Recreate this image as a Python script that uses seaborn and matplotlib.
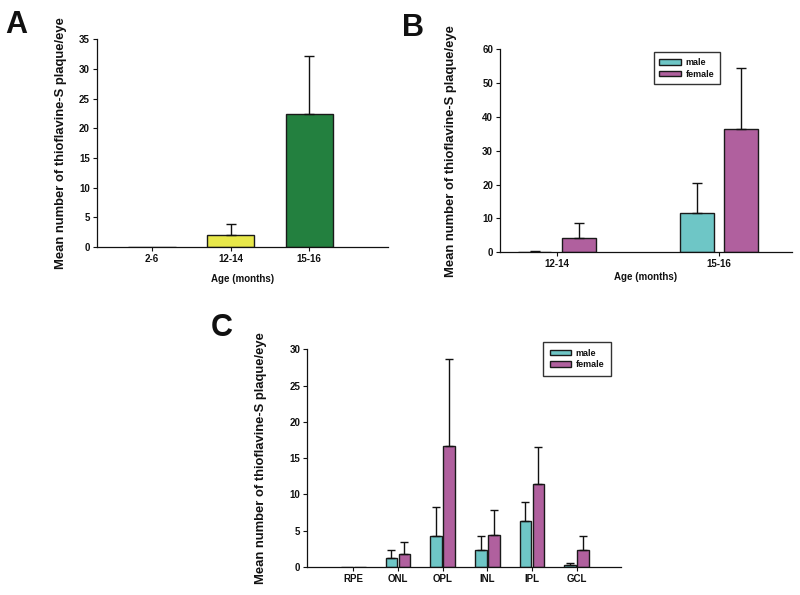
import numpy as np
import pandas as pd
import matplotlib
matplotlib.use("Agg")
import matplotlib.pyplot as plt
import seaborn as sns

sns.set_style("ticks")
plt.rcParams["font.family"] = ["Liberation Sans", "DejaVu Sans"]
plt.rcParams["text.color"] = "#111111"
plt.rcParams["axes.labelcolor"] = "#111111"
plt.rcParams["xtick.color"] = "#111111"
plt.rcParams["ytick.color"] = "#111111"
plt.rcParams["axes.edgecolor"] = "#111111"

# panel A
ages_a = ["2-6", "12-14", "15-16"]
mean_a = [0.0, 2.0, 22.4]
sem_a = [0.0, 1.9, 9.7]
colors_a = ["#e8e84a", "#e8e84a", "#23803f"]

# panel B
ages_b = ["12-14", "15-16"]
male_b = [0.2, 11.7]
male_b_sem = [0.2, 8.9]
female_b = [4.3, 36.6]
female_b_sem = [4.3, 17.9]

# panel C
layers = ["RPE", "ONL", "OPL", "INL", "IPL", "GCL"]
male_c = [0.0, 1.3, 4.3, 2.4, 6.4, 0.3]
male_c_sem = [0.0, 1.0, 4.0, 1.9, 2.5, 0.2]
female_c = [0.0, 1.75, 16.7, 4.4, 11.4, 2.4]
female_c_sem = [0.0, 1.65, 11.9, 3.4, 5.2, 1.9]

sexes = ["male", "female"]
pal = {"male": "#6ec6c6", "female": "#b0609e"}

ylab = "Mean number of thioflavine-S plaque/eye"
ylab_font = dict(fontsize=9.4, fontweight="bold")
tick_fs = 7


def long_df(cats, m, f):
    return pd.DataFrame({
        "cat": cats + cats,
        "sex": ["male"] * len(cats) + ["female"] * len(cats),
        "val": m + f,
    })


def add_err(ax, errs, cap):
    bars = [b for c in ax.containers for b in c]
    for b, e in zip(bars, errs):
        if e <= 0:
            continue
        xc = b.get_x() + b.get_width() / 2
        ax.errorbar([xc], [b.get_height()], yerr=[[0], [e]], fmt="none",
                    ecolor="#111111", elinewidth=1.0, capsize=cap, capthick=1.0)


def style_ax(ax, lab_x):
    sns.despine(ax=ax)
    ax.tick_params(axis="both", labelsize=tick_fs, length=3, width=0.8, pad=2)
    for t in ax.get_xticklabels() + ax.get_yticklabels():
        t.set_fontweight("bold")
    ax.spines["left"].set_linewidth(0.9)
    ax.spines["bottom"].set_linewidth(0.9)
    ax.set_ylabel(ylab, **ylab_font)
    ax.yaxis.set_label_coords(lab_x, 0.5)


fig = plt.figure(figsize=(8, 5.95), dpi=100)

# A
ax1 = fig.add_axes([0.121, 0.585, 0.364, 0.349])
sns.barplot(x=ages_a, y=mean_a, hue=ages_a, palette=colors_a, order=ages_a,
            width=0.6, errorbar=None, edgecolor="#1a1a1a", linewidth=1.0,
            saturation=1, legend=False, ax=ax1)
add_err(ax1, sem_a, 3.6)
ax1.set_xlim(-0.7, 3.0)
ax1.set_ylim(0, 35)
ax1.set_yticks(range(0, 36, 5))
ax1.set_xlabel("Age (months)", fontsize=7, fontweight="bold", labelpad=7)
style_ax(ax1, -0.103)
fig.text(0.006, 0.945, "A", fontsize=22, fontweight="bold")

# B
ax2 = fig.add_axes([0.625, 0.576, 0.365, 0.341])
df_b = long_df(ages_b, male_b, female_b)
sns.barplot(data=df_b, x="cat", y="val", hue="sex", hue_order=sexes,
            palette=pal, width=0.544, gap=0.24, errorbar=None, saturation=1,
            edgecolor="#1a1a1a", linewidth=1.0, ax=ax2)
add_err(ax2, male_b_sem + female_b_sem, 3.6)
ax2.set_xlim(-0.35, 1.45)
ax2.set_ylim(0, 60)
ax2.set_yticks(range(0, 61, 10))
ax2.set_xlabel("Age (months)", fontsize=7, fontweight="bold", labelpad=2)
style_ax(ax2, -0.147)
leg_kw = dict(loc="upper left", borderaxespad=0, fancybox=False,
              edgecolor="#333333", handlelength=2.4, handleheight=0.6,
              labelspacing=0.3, handletextpad=0.5, framealpha=1,
              prop={"size": 6.5, "weight": "bold"})
ax2.legend(bbox_to_anchor=(0.527, 0.985), borderpad=0.6, **leg_kw)
fig.text(0.503, 0.94, "B", fontsize=22, fontweight="bold")

# C
ax3 = fig.add_axes([0.384, 0.047, 0.3925, 0.366])
df_c = long_df(layers, male_c, female_c)
sns.barplot(data=df_c, x="cat", y="val", hue="sex", hue_order=sexes,
            palette=pal, width=0.58, gap=0.1, errorbar=None, saturation=1,
            edgecolor="#1a1a1a", linewidth=1.0, ax=ax3)
add_err(ax3, male_c_sem + female_c_sem, 2.9)
ax3.set_xlim(-1.03, 6.0)
ax3.set_ylim(0, 30)
ax3.set_yticks(range(0, 31, 5))
ax3.set_xlabel("")
style_ax(ax3, -0.127)
ax3.legend(bbox_to_anchor=(0.752, 1.032), borderpad=0.7, **leg_kw)
fig.text(0.263, 0.435, "C", fontsize=22, fontweight="bold")

fig.savefig("out.png", dpi=100)
